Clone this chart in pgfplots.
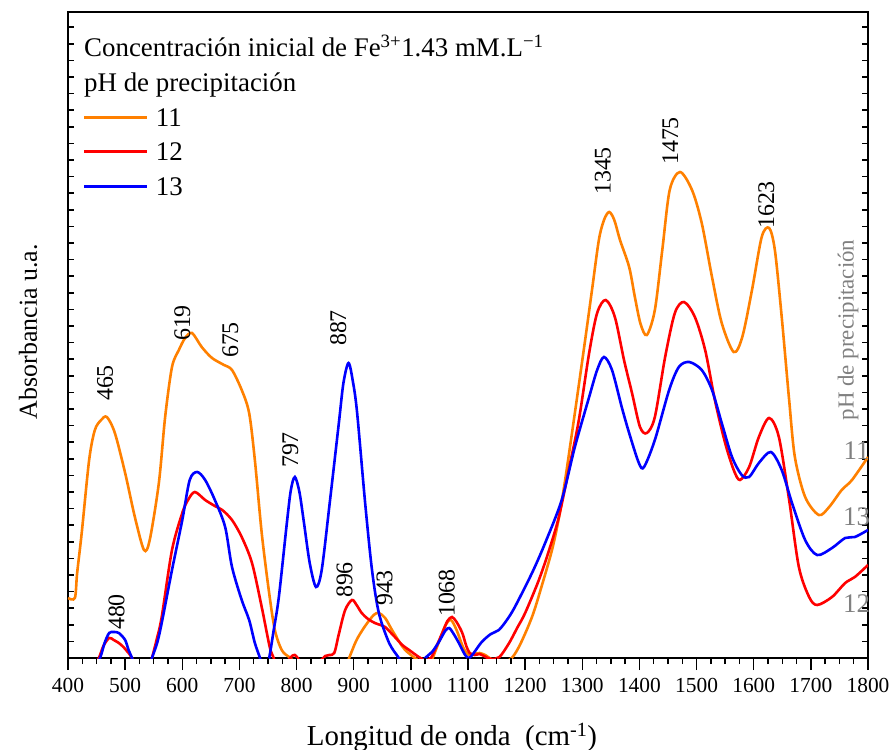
\documentclass[border=0pt]{standalone}
\usepackage{pgfplots}
\pgfplotsset{compat=1.18}
\usepackage{fontspec}
\setmainfont{Liberation Serif}
\definecolor{cor}{HTML}{FF8000}
\definecolor{cre}{HTML}{FF0000}
\definecolor{cbl}{HTML}{0000FF}
\definecolor{cgr}{HTML}{808080}
\begin{document}
\begin{tikzpicture}
\path[use as bounding box] (-68bp,-92bp) rectangle (822bp,658bp);
\begin{axis}[
  at={(0,0)}, anchor=south west,
  scale only axis, width=800bp, height=646bp,
  xmin=400, xmax=1800, ymin=0, ymax=646,
  xtick={400,500,...,1800}, minor x tick num=3,
  xtick pos=lower, xtick align=outside,
  ytick={0,646}, yticklabels={}, minor ytick={16.6,33.2,...,640}, ytick pos=both, ytick align=inside,
  major tick length=12bp, minor tick length=6bp,
  axis line style={line width=1.8bp},
  x tick style={draw=black, line width=1.5bp},
  y tick style={draw=black, line width=1.5bp, xshift=0bp},
  tick label style={font=\fontsize{21.5}{24}\selectfont},
  xticklabel style={yshift=-5bp},
  /pgf/number format/assume math mode=true,
  /pgf/number format/set thousands separator={},
  every axis x label/.style={at={(axis description cs:0.48,0)}, anchor=base, yshift=-87bp},
  every axis y label/.style={at={([xshift=-31bp]axis description cs:0,0.505)}, anchor=base, rotate=90},
  xlabel={Longitud de onda\ \ (cm\textsuperscript{-1})},
  ylabel={Absorbancia u.a.},
  xlabel style={font=\fontsize{29}{32}\selectfont},
  ylabel style={font=\fontsize{26}{30}\selectfont},
  legend style={at={(axis cs:426,550)}, anchor=north west, draw=none, fill=none, inner sep=0pt,
    font=\fontsize{27}{30}\selectfont, row sep=16.5bp,
    nodes={text height=18bp, text depth=0bp, inner sep=0pt},
    /tikz/every odd column/.style={column sep=7bp},
    /tikz/every even column/.style={column sep=0bp}},
  legend cell align=left,
  legend image code/.code={\draw[#1, line width=2.8bp] (0bp,0bp) -- (63bp,0bp);},
  clip mode=individual,
  every axis plot/.append style={line width=2.6bp, smooth, tension=0.5},
]
% pH 11
\addplot[cor] coordinates {
(400,60) (412,60) (416,85) (424,125) (437,198) (447,228) (458,238) (468,241) (482,225) (500,185) (517,141) (533,108) (543,118) (559,175) (570,241) (582,291) (594,308) (605,320) (617,325) (634,311) (652,300) (673,293) (687,288) (704,268) (717,245) (727,198) (739,125) (752,65) (762,28) (774,8) (787,1) (800,-3) (860,-3) (885,-10) (892,0) (905,18) (920,32) (935,43) (944,45) (955,40) (967,28) (980,16) (990,8) (1007,0) (1020,-5) (1035,-3) (1045,10) (1060,32) (1070,38) (1080,28) (1092,10) (1102,3) (1112,4) (1120,5) (1130,3) (1145,-2) (1172,-2) (1189,11) (1212,41) (1229,72) (1247,108) (1259,140) (1270,178) (1287,245) (1305,318) (1317,368) (1329,418) (1338,438) (1347,446) (1356,438) (1366,418) (1382,391) (1392,361) (1402,334) (1413,323) (1427,348) (1440,408) (1453,468) (1471,486) (1492,468) (1509,435) (1527,381) (1544,335) (1565,306) (1580,321) (1597,368) (1614,421) (1627,430) (1637,408) (1649,341) (1662,258) (1672,201) (1690,161) (1714,143) (1732,151) (1754,168) (1772,178) (1800,201)
};
\addlegendentry{11}
% pH 12
\addplot[cre] coordinates {
(440,-15) (454,0) (462,12) (472,20) (480,18) (489,15) (497,11) (503,7) (512,0) (520,-15) (540,-15) (547,0) (555,18) (564,41) (582,108) (600,145) (610,158) (622,166) (640,158) (657,152) (670,148) (687,138) (704,121) (722,95) (739,51) (753,11) (760,0) (768,-15) (785,-3) (792,2) (797,3) (802,0) (810,-5) (840,-3) (850,2) (857,3) (866,5) (874,24) (885,48) (897,58) (905,53) (914,45) (925,39) (937,35) (947,33) (955,31) (972,21) (985,13) (997,8) (1014,1) (1025,-2) (1035,0) (1045,12) (1055,25) (1064,37) (1072,41) (1080,36) (1090,25) (1097,12) (1103,5) (1112,3) (1120,4) (1128,2) (1140,-1) (1155,1) (1172,15) (1186,30) (1200,45) (1224,78) (1242,108) (1259,141) (1277,190) (1294,238) (1312,305) (1326,345) (1341,358) (1357,341) (1373,298) (1387,265) (1401,231) (1413,225) (1427,241) (1445,301) (1462,345) (1478,356) (1497,341) (1515,308) (1532,258) (1550,215) (1565,188) (1576,178) (1592,191) (1609,221) (1627,240) (1644,221) (1662,158) (1679,91) (1697,61) (1711,53) (1737,61) (1760,75) (1777,81) (1800,93)
};
\addlegendentry{12}
% pH 13
\addplot[cbl] coordinates {
(440,-15) (456,0) (464,15) (472,25) (480,26) (489,25) (500,18) (506,8) (512,0) (520,-15) (540,-15) (547,0) (556,15) (564,35) (582,88) (600,138) (613,178) (626,186) (640,178) (657,158) (675,131) (687,91) (704,58) (717,38) (727,15) (736,0) (744,-15) (752,0) (760,28) (769,61) (783,135) (790,168) (797,181) (805,166) (813,135) (823,95) (834,71) (844,88) (858,155) (874,235) (882,275) (891,295) (899,275) (906,245) (920,155) (932,88) (944,45) (962,15) (979,0) (990,-10) (1015,-10) (1025,0) (1037,6) (1049,16) (1060,27) (1067,30) (1075,24) (1084,15) (1095,3) (1102,0) (1110,5) (1124,16) (1140,24) (1154,28) (1168,38) (1182,51) (1212,85) (1235,115) (1264,158) (1287,211) (1312,261) (1326,288) (1338,301) (1352,288) (1369,251) (1382,225) (1399,195) (1408,191) (1427,218) (1452,268) (1469,291) (1487,296) (1509,288) (1527,268) (1544,235) (1562,201) (1579,183) (1592,181) (1609,195) (1630,206) (1649,188) (1667,155) (1690,118) (1711,103) (1737,110) (1760,120) (1777,121) (1800,128)
};
\addlegendentry{13}
% outward x-axis tick marks
\pgfplotsinvokeforeach{400,500,...,1800}{\draw[line width=1.5bp] (axis cs:#1,0) -- ([yshift=-12bp]axis cs:#1,0);}
\pgfplotsinvokeforeach{425,450,...,1775}{\draw[line width=1.5bp] (axis cs:#1,0) -- ([yshift=-6bp]axis cs:#1,0);}
% header lines
\node[anchor=base west, inner sep=0pt, font=\fontsize{27}{30}\selectfont] at (axis cs:428,601) {Concentración inicial de Fe\textsuperscript{3+}1.43 mM.L\textsuperscript{−1}};
\node[anchor=base west, inner sep=0pt, font=\fontsize{27}{30}\selectfont] at (axis cs:428,566) {pH de precipitación};
% peak labels
\begin{scope}[every node/.style={rotate=90, anchor=center, inner sep=0pt, font=\fontsize{24}{26}\selectfont}]
\node at (axis cs:465,275) {465};
\node at (axis cs:485,46) {480};
\node at (axis cs:600,335) {619};
\node at (axis cs:684,318) {675};
\node at (axis cs:789,208) {797};
\node at (axis cs:873,330) {887};
\node at (axis cs:884,78) {896};
\node at (axis cs:954,70) {943};
\node at (axis cs:1063,65) {1068};
\node at (axis cs:1336,487) {1345};
\node at (axis cs:1454,517) {1475};
\node at (axis cs:1622,453) {1623};
\end{scope}
% right-side gray labels
\node[rotate=90, anchor=center, inner sep=0pt, text=cgr, font=\fontsize{23}{26}\selectfont] at (axis cs:1765,328) {pH de precipitación};
\node[anchor=center, inner sep=0pt, text=cgr, font=\fontsize{27}{30}\selectfont] at (axis cs:1780,207) {11};
\node[anchor=center, inner sep=0pt, text=cgr, font=\fontsize{27}{30}\selectfont] at (axis cs:1780,141) {13};
\node[anchor=center, inner sep=0pt, text=cgr, font=\fontsize{27}{30}\selectfont] at (axis cs:1780,54) {12};
\end{axis}
\end{tikzpicture}
\end{document}
